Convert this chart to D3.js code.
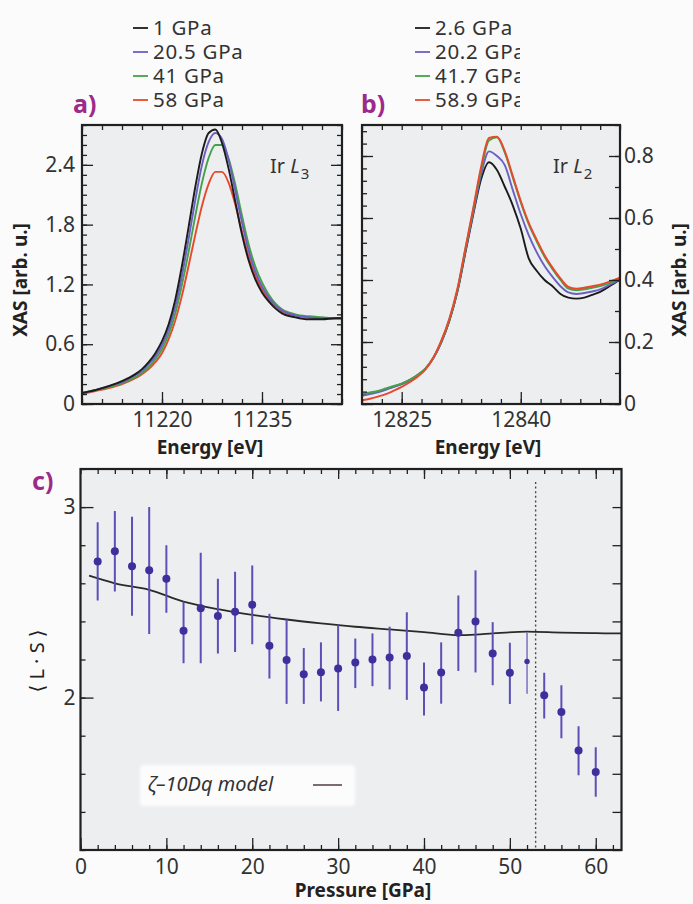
<!DOCTYPE html>
<html>
<head>
<meta charset="utf-8">
<script src="https://cdn.jsdelivr.net/npm/d3@7"></script>
<style>
  body { margin: 0; background: #fbfbfb; }
  svg { display: block; }
</style>
</head>
<body>
<svg id="fig" width="693" height="904"></svg>
<script>
// ---------- Ir L3 edge spectra (panel a) ----------
const l3Energy = [11208, 11210, 11212, 11214, 11216, 11217, 11218, 11219, 11220, 11221, 11222, 11223,
  11224, 11225, 11226, 11227, 11228, 11229, 11230, 11231, 11232, 11233, 11234, 11235, 11236, 11237,
  11238, 11240, 11242, 11244, 11246, 11247];
const l3_1GPa = [0.11, 0.14, 0.18, 0.23, 0.30, 0.35, 0.42, 0.51, 0.63, 0.80, 1.05, 1.39, 1.78, 2.18, 2.52,
  2.72, 2.755, 2.62, 2.36, 2.03, 1.70, 1.44, 1.25, 1.12, 1.03, 0.96, 0.91, 0.87, 0.85, 0.85, 0.86, 0.86];
const l3_20p5GPa = [0.11, 0.14, 0.18, 0.22, 0.29, 0.33, 0.40, 0.48, 0.59, 0.75, 0.98, 1.29, 1.66, 2.05, 2.40,
  2.63, 2.72, 2.66, 2.45, 2.14, 1.82, 1.54, 1.33, 1.18, 1.07, 0.99, 0.94, 0.89, 0.87, 0.86, 0.86, 0.86];
const l3_41GPa = [0.11, 0.14, 0.17, 0.21, 0.27, 0.31, 0.37, 0.45, 0.55, 0.70, 0.91, 1.20, 1.53, 1.89, 2.22,
  2.47, 2.60, 2.60, 2.46, 2.20, 1.89, 1.60, 1.38, 1.22, 1.10, 1.01, 0.95, 0.90, 0.88, 0.87, 0.86, 0.86];
const l3_58GPa = [0.10, 0.13, 0.16, 0.20, 0.26, 0.30, 0.35, 0.42, 0.51, 0.65, 0.84, 1.09, 1.39, 1.70, 1.99,
  2.21, 2.33, 2.33, 2.22, 2.00, 1.73, 1.48, 1.29, 1.15, 1.05, 0.98, 0.93, 0.89, 0.87, 0.86, 0.86, 0.86];
const l3Labels = ["1 GPa", "20.5 GPa", "41 GPa", "58 GPa"];

// ---------- Ir L2 edge spectra (panel b) ----------
const l2Energy = [12820, 12821, 12822, 12823, 12824, 12825, 12826, 12827, 12828, 12829, 12830, 12831,
  12832, 12833, 12834, 12835, 12836, 12837, 12838, 12839, 12840, 12841, 12842, 12843, 12844, 12845,
  12846, 12847, 12848, 12849, 12850, 12851, 12852, 12852.5];
const l2_2p6GPa = [0.028, 0.034, 0.040, 0.048, 0.056, 0.065, 0.077, 0.093, 0.114, 0.149, 0.200, 0.268,
  0.360, 0.485, 0.610, 0.725, 0.780, 0.755, 0.700, 0.640, 0.565, 0.470, 0.430, 0.400, 0.380, 0.355,
  0.343, 0.340, 0.343, 0.352, 0.362, 0.377, 0.393, 0.400];
const l2_20p2GPa = [0.026, 0.032, 0.038, 0.046, 0.055, 0.064, 0.076, 0.092, 0.113, 0.148, 0.200, 0.270,
  0.363, 0.490, 0.615, 0.740, 0.815, 0.800, 0.770, 0.690, 0.612, 0.545, 0.490, 0.445, 0.410, 0.380,
  0.360, 0.355, 0.358, 0.363, 0.370, 0.382, 0.395, 0.400];
const l2_41p7GPa = [0.032, 0.037, 0.042, 0.050, 0.058, 0.066, 0.078, 0.094, 0.115, 0.150, 0.203, 0.272,
  0.365, 0.495, 0.625, 0.755, 0.850, 0.860, 0.810, 0.730, 0.650, 0.580, 0.525, 0.475, 0.435, 0.400,
  0.372, 0.367, 0.370, 0.375, 0.380, 0.388, 0.398, 0.402];
const l2_58p9GPa = [0.012, 0.017, 0.024, 0.032, 0.043, 0.055, 0.070, 0.088, 0.112, 0.150, 0.205, 0.275,
  0.370, 0.500, 0.630, 0.765, 0.858, 0.862, 0.815, 0.735, 0.655, 0.585, 0.530, 0.480, 0.440, 0.405,
  0.378, 0.372, 0.375, 0.380, 0.385, 0.393, 0.403, 0.408];
const l2Labels = ["2.6 GPa", "20.2 GPa", "41.7 GPa", "58.9 GPa"];

// ---------- <L.S> versus pressure (panel c) ----------
const pressure = [2, 4, 6, 8, 10, 12, 14, 16, 18, 20, 22, 24, 26, 28, 30, 32, 34, 36, 38, 40,
  42, 44, 46, 48, 50, 52, 54, 56, 58, 60];
const lsValue = [2.715, 2.768, 2.689, 2.668, 2.624, 2.351, 2.469, 2.429, 2.451, 2.487, 2.272, 2.197,
  2.122, 2.133, 2.153, 2.184, 2.200, 2.211, 2.218, 2.053, 2.132, 2.340, 2.399, 2.232, 2.130, 2.190,
  2.012, 1.925, 1.722, 1.610];
const lsLow = [2.51, 2.557, 2.43, 2.334, 2.446, 2.18, 2.18, 2.232, 2.24, 2.28, 2.10, 1.967, 1.967,
  1.98, 1.93, 2.05, 2.06, 2.043, 1.988, 1.906, 1.968, 2.14, 2.132, 2.065, 1.967, 2.02, 1.89, 1.786,
  1.592, 1.48];
const lsHigh = [2.92, 2.98, 2.95, 3.00, 2.80, 2.504, 2.76, 2.624, 2.66, 2.694, 2.44, 2.41, 2.26,
  2.29, 2.38, 2.31, 2.337, 2.372, 2.448, 2.184, 2.29, 2.536, 2.668, 2.396, 2.288, 2.34, 2.13, 2.065,
  1.85, 1.74];
const modelPressure = [1, 4, 8, 12, 16, 20, 24, 28, 32, 36, 40, 44, 46, 48, 52, 56, 60, 63];
const modelLS = [2.64, 2.60, 2.566, 2.504, 2.464, 2.434, 2.41, 2.39, 2.372, 2.358, 2.344, 2.328,
  2.331, 2.337, 2.346, 2.341, 2.338, 2.337];
const transitionPressure = 53;

// ---------- styling ----------
const FONT = "'Noto Sans', 'DejaVu Sans', sans-serif";
const INK = "#202020", TXT = "#333", PLOT_BG = "#eceef0", TAG = "#9c2a8c";
const seriesColors = ["#1b1b1b", "#6a5fc4", "#46a24a", "#e8492b"];
const POINT = "#3d2f9c", BAR = "#5a50b8";

const svg = d3.select("#fig");
const defs = svg.append("defs");
defs.append("filter").attr("id", "soft").attr("x", "-10%").attr("y", "-30%")
  .attr("width", "120%").attr("height", "160%")
  .append("feGaussianBlur").attr("stdDeviation", 1.6);

function plotArea(id, x, y) {
  const [x0, x1] = x.range(), y0 = y.range()[1], y1 = y.range()[0];
  svg.append("rect").attr("x", x0).attr("y", y0).attr("width", x1 - x0).attr("height", y1 - y0)
    .attr("fill", PLOT_BG);
  defs.append("clipPath").attr("id", id).append("rect")
    .attr("x", x0).attr("y", y0).attr("width", x1 - x0).attr("height", y1 - y0);
}

function frame(x, y) {
  const [x0, x1] = x.range(), y0 = y.range()[1], y1 = y.range()[0];
  svg.append("rect").attr("x", x0).attr("y", y0).attr("width", x1 - x0).attr("height", y1 - y0)
    .attr("fill", "none").attr("stroke", INK).attr("stroke-width", 2.2);
}

function ticks(axisGen, scale, values, size, tx, ty, fmt, pad) {
  const a = axisGen(scale).tickValues(values).tickSize(size).tickPadding(pad || 0)
    .tickFormat(fmt || (() => ""));
  const g = svg.append("g").attr("transform", `translate(${tx},${ty})`).call(a);
  g.select(".domain").remove();
  g.attr("font-family", FONT).attr("font-size", 21);
  g.selectAll(".tick line").attr("stroke", INK).attr("stroke-width", 1.3);
  g.selectAll(".tick text").attr("fill", TXT);
  return g;
}

const num1 = d => d === 0 ? "0" : d.toFixed(1);
const steps = (a, b, s) => d3.range(Math.round((b - a) / s) + 1).map(i => +(a + i * s).toFixed(4));

function spectrum(clipId, x, y, energy, seriesList, order) {
  const line = d3.line().x(d => x(d[0])).y(d => y(d[1])).curve(d3.curveMonotoneX);
  const g = svg.append("g").attr("clip-path", `url(#${clipId})`);
  order.forEach(i => {
    g.append("path").datum(energy.map((e, k) => [e, seriesList[i][k]]))
      .attr("d", line).attr("fill", "none").attr("stroke", seriesColors[i])
      .attr("stroke-width", 1.9).attr("stroke-linejoin", "round");
  });
}

function edgeLabel(xp, yp, sub) {
  const t = svg.append("text").attr("x", xp).attr("y", yp).attr("font-family", FONT)
    .attr("font-size", 20).attr("fill", TXT);
  t.append("tspan").text("Ir ");
  t.append("tspan").attr("font-style", "italic").text("L");
  t.append("tspan").attr("font-size", 15).attr("dy", 6).attr("dx", 1).text(sub);
}

function seriesLegend(id, x0, labels, clipRight) {
  const g = svg.append("g");
  if (clipRight) {
    defs.append("clipPath").attr("id", id).append("rect")
      .attr("x", x0 - 5).attr("y", 0).attr("width", clipRight - x0 + 5).attr("height", 120);
    g.attr("clip-path", `url(#${id})`);
  }
  labels.forEach((lab, i) => {
    const yb = 35 + i * 24;
    g.append("line").attr("x1", x0).attr("x2", x0 + 15).attr("y1", yb - 7).attr("y2", yb - 7)
      .attr("stroke", seriesColors[i]).attr("stroke-width", 1.8);
    g.append("text").attr("x", x0 + 20).attr("y", yb).attr("font-family", FONT)
      .attr("font-size", 20.5).attr("letter-spacing", 0.7).attr("fill", TXT).text(lab);
  });
}

function tag(xp, yp, s) {
  svg.append("text").attr("x", xp).attr("y", yp).attr("font-family", FONT).attr("font-size", 25)
    .attr("font-weight", "bold").attr("fill", TAG).text(s);
}

function title(xp, yp, s, rot, weight) {
  svg.append("text").attr("transform", `translate(${xp},${yp}) rotate(${rot || 0})`)
    .attr("text-anchor", "middle").attr("font-family", FONT).attr("font-size", 19)
    .attr("font-weight", weight || "bold").attr("fill", "#222").text(s);
}

// ================= panel a =================
const ax = d3.scaleLinear().domain([11208, 11247]).range([82, 342]);
const ay = d3.scaleLinear().domain([0, 2.8]).range([404, 125]);
plotArea("clipA", ax, ay);
spectrum("clipA", ax, ay, l3Energy, [l3_1GPa, l3_20p5GPa, l3_41GPa, l3_58GPa], [3, 2, 1, 0]);
const axMinor = steps(11208, 11247, 3), axMajor = [11220, 11235];
const ayMinor = steps(0, 2.8, 0.1), ayMajor = [0, 0.6, 1.2, 1.8, 2.4];
ticks(d3.axisBottom, ax, axMinor, -5, 0, 404);
ticks(d3.axisBottom, ax, axMajor, -12, 0, 404, d => d, 8);
ticks(d3.axisTop, ax, axMinor, -5, 0, 125);
ticks(d3.axisLeft, ay, ayMinor, -5, 82, 0);
ticks(d3.axisLeft, ay, ayMajor, -11, 82, 0, num1, 7);
ticks(d3.axisRight, ay, ayMinor, -5, 342, 0);
ticks(d3.axisRight, ay, ayMajor, -11, 342, 0);
frame(ax, ay);
edgeLabel(270, 173, "3");
title(210, 454, "Energy [eV]");
title(27, 280, "XAS [arb. u.]", -90);
tag(73, 113, "a)");
seriesLegend("legA", 133, l3Labels);

// ================= panel b =================
const bx = d3.scaleLinear().domain([12820, 12852.5]).range([362, 620]);
const by = d3.scaleLinear().domain([0, 0.9]).range([404, 125]);
plotArea("clipB", bx, by);
spectrum("clipB", bx, by, l2Energy, [l2_2p6GPa, l2_20p2GPa, l2_41p7GPa, l2_58p9GPa], [0, 1, 2, 3]);
const bxMinor = steps(12820, 12852.5, 2.5), bxMajor = [12825, 12840];
const byMinor = steps(0, 0.9, 0.04).filter(v => v <= 0.9), byMajor = [0, 0.2, 0.4, 0.6, 0.8];
ticks(d3.axisBottom, bx, bxMinor, -5, 0, 404);
ticks(d3.axisBottom, bx, bxMajor, -12, 0, 404, d => d, 8);
ticks(d3.axisTop, bx, bxMinor, -5, 0, 125);
ticks(d3.axisLeft, by, byMinor, -5, 362, 0);
ticks(d3.axisLeft, by, byMajor, -11, 362, 0);
ticks(d3.axisRight, by, steps(0, 0.9, 0.1), -5, 620, 0);
ticks(d3.axisRight, by, byMajor, -11, 620, 0, num1, 4);
frame(bx, by);
edgeLabel(553, 173, "2");
title(488, 454, "Energy [eV]");
title(686, 280, "XAS [arb. u.]", -90);
tag(361, 113, "b)");
seriesLegend("legB", 415, l2Labels, 520);

// ================= panel c =================
const cx = d3.scaleLinear().domain([0, 63]).range([80.5, 621.5]);
const cy = d3.scaleLinear().domain([1.2, 3.2]).range([850, 469]);
plotArea("clipC", cx, cy);
const cxMinor = steps(0, 62, 2), cxMajor = [0, 10, 20, 30, 40, 50, 60];
const cyMinor = steps(1.2, 3.2, 0.2), cyMajor = [2, 3];
ticks(d3.axisBottom, cx, cxMinor, -5, 0, 850);
ticks(d3.axisBottom, cx, cxMajor, -12, 0, 850, d => d, 9);
ticks(d3.axisTop, cx, cxMinor, -5, 0, 469);
ticks(d3.axisTop, cx, cxMajor.filter(v => v > 0), -10, 0, 469);
ticks(d3.axisLeft, cy, cyMinor, -5, 80.5, 0);
ticks(d3.axisLeft, cy, cyMajor, -13, 80.5, 0, d => d, 5);
ticks(d3.axisRight, cy, cyMinor, -9, 621.5, 0);

const gc = svg.append("g").attr("clip-path", "url(#clipC)");
// phase-boundary marker
gc.append("line").attr("x1", cx(transitionPressure)).attr("x2", cx(transitionPressure))
  .attr("y1", 482).attr("y2", 850).attr("stroke", "#4a4a4a").attr("stroke-width", 1.4)
  .attr("stroke-dasharray", "2,2.6");
// model curve
gc.append("path").datum(modelPressure.map((p, i) => [p, modelLS[i]]))
  .attr("d", d3.line().x(d => cx(d[0])).y(d => cy(d[1])).curve(d3.curveMonotoneX))
  .attr("fill", "none").attr("stroke", "#2a2a2a").attr("stroke-width", 1.8);
// measured points with error bars
const reducedPoint = 52;
pressure.forEach((p, i) => {
  const thin = p === reducedPoint;
  gc.append("line").attr("x1", cx(p)).attr("x2", cx(p)).attr("y1", cy(lsLow[i])).attr("y2", cy(lsHigh[i]))
    .attr("stroke", BAR).attr("stroke-width", thin ? 1.2 : 2);
  gc.append("circle").attr("cx", cx(p)).attr("cy", cy(lsValue[i])).attr("r", thin ? 2.7 : 4)
    .attr("fill", POINT);
});
frame(cx, cy);

// model legend
svg.append("rect").attr("x", 140).attr("y", 765).attr("width", 215).attr("height", 41).attr("rx", 4)
  .attr("fill", "#ffffff").attr("opacity", 0.85).attr("filter", "url(#soft)");
svg.append("text").attr("x", 148).attr("y", 791).attr("font-family", FONT).attr("font-size", 20)
  .attr("font-style", "italic").attr("fill", "#333").text("ζ–10Dq model");
svg.append("line").attr("x1", 313).attr("x2", 342).attr("y1", 785).attr("y2", 785)
  .attr("stroke", "#5a4848").attr("stroke-width", 1.6);

title(363, 897, "Pressure [GPa]");
svg.append("text").attr("transform", "translate(44,661) rotate(-90)").attr("text-anchor", "middle")
  .attr("font-family", FONT).attr("font-size", 20).attr("fill", "#222").text("⟨ L · S ⟩");
tag(32, 490, "c)");
</script>
</body>
</html>
